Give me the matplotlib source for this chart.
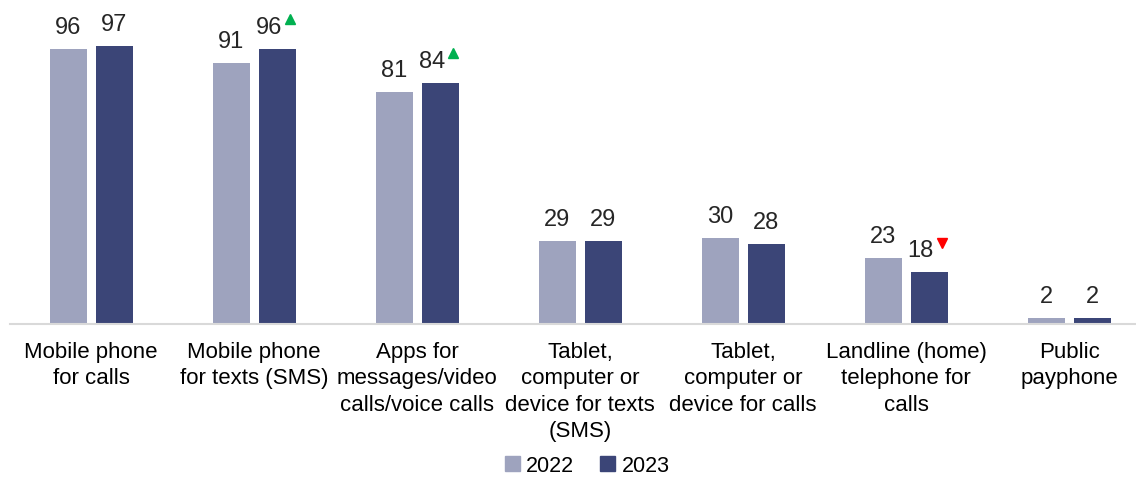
import numpy as np
import matplotlib.pyplot as plt
from matplotlib.patches import Patch
from matplotlib.transforms import offset_copy

plt.rcParams['font.family'] = ['Liberation Sans', 'DejaVu Sans']

categories = ["Mobile phone\nfor calls", "Mobile phone\nfor texts (SMS)",
              "Apps for\nmessages/video\ncalls/voice calls",
              "Tablet,\ncomputer or\ndevice for texts\n(SMS)",
              "Tablet,\ncomputer or\ndevice for calls",
              "Landline (home)\ntelephone for\ncalls", "Public\npayphone"]
v2022 = [96, 91, 81, 29, 30, 23, 2]
v2023 = [97, 96, 84, 29, 28, 18, 2]
# significant change vs 2022: 1 up, -1 down, 0 none
change = [0, 1, 1, 0, 0, -1, 0]

c22 = "#9ea3be"
c23 = "#3b4577"

fig = plt.figure(figsize=(11.36, 4.81), dpi=100)
ax = fig.add_axes([0.0084, 0.3243, 0.9916, 0.5957])

x = np.arange(len(categories))
w = 0.227
off = 0.141
ax.bar(x - off, v2022, w, color=c22)
ax.bar(x + off, v2023, w, color=c23)

for xi, v in zip(x, v2022):
    ax.annotate(str(v), (xi - off, v), xytext=(0, 8), textcoords="offset points",
                ha="center", va="bottom", fontsize=17, color="#262626")

for xi, v, c in zip(x, v2023, change):
    dx = -6 if c else 0
    ax.annotate(str(v), (xi + off, v), xytext=(dx, 8), textcoords="offset points",
                ha="center", va="bottom", fontsize=17, color="#262626")
    if c:
        tr = offset_copy(ax.transData, fig=fig, x=9, y=21.5, units="points")
        ax.plot(xi + off, v, marker="^" if c > 0 else "v", ms=7.5,
                color="#00b050" if c > 0 else "#ff0000", transform=tr,
                clip_on=False, lw=0)

ax.set_xlim(-0.5, 6.41)
ax.set_ylim(0, 100)
ax.set_xticks(x)
ax.set_xticklabels(categories, fontsize=16, color="#000000", linespacing=1.35)
ax.tick_params(axis="x", length=0, pad=12)
ax.set_yticks([])
for s in ["top", "right", "left"]:
    ax.spines[s].set_visible(False)
ax.spines["bottom"].set_color("#d9d9d9")
ax.spines["bottom"].set_linewidth(1.5)

handles = [Patch(color=c22, label="2022"), Patch(color=c23, label="2023")]
fig.legend(handles=handles, loc="lower center", bbox_to_anchor=(0.517, -0.033),
           ncol=2, frameon=False, fontsize=15.5, handlelength=0.7,
           handleheight=0.7, handletextpad=0.3, columnspacing=1.2)

fig.savefig("out.png", dpi=100)
